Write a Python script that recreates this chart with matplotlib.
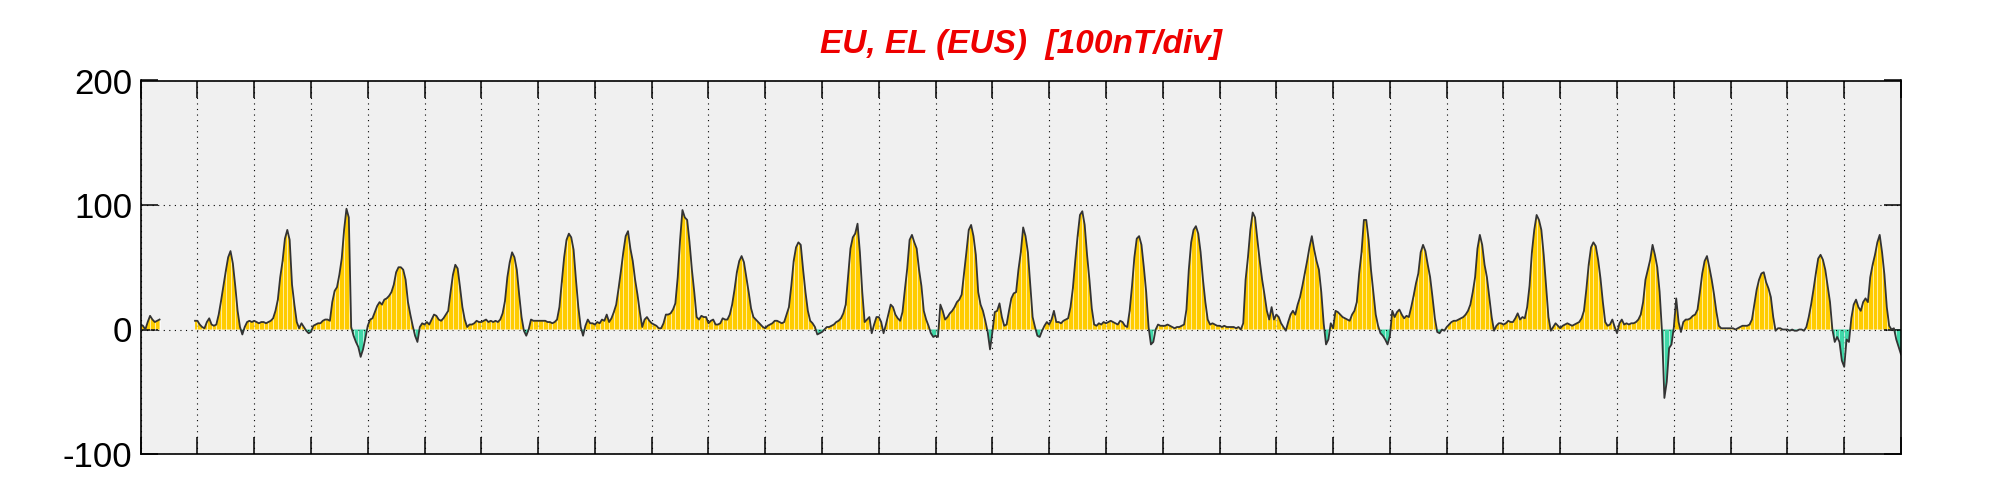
import numpy as np
import matplotlib
matplotlib.use("Agg")
import matplotlib.pyplot as plt

nan = np.nan
# Hourly EU/EL values (nT), one list per day (hour 0..23)
d01 = [4, 3, 0, 6, 11, 8, 6, 7, 8, nan, nan, nan, nan, nan, nan, nan, nan, nan, nan, nan, nan, nan, nan, 7]
d02 = [7, 4, 2, 1, 6, 9, 4, 3, 4, 12, 23, 35, 47, 58, 63, 53, 35, 15, 2, -4, 2, 6, 7, 6]
d03 = [7, 6, 5, 6, 6, 5, 6, 7, 9, 15, 24, 42, 55, 73, 80, 72, 36, 20, 6, 1, 5, 2, -1, -3]
d04 = [-2, 3, 4, 5, 5, 7, 8, 8, 7, 22, 31, 34, 44, 57, 80, 97, 90, 2, -5, -10, -14, -22, -16, -7]
d05 = [3, 8, 9, 14, 19, 22, 20, 24, 25, 27, 30, 36, 46, 50, 50, 48, 40, 22, 12, 3, -5, -10, 2, 5]
d06 = [4, 6, 4, 8, 12, 11, 8, 7, 9, 12, 15, 30, 44, 52, 49, 34, 18, 8, 2, 4, 4, 5, 7, 6]
d07 = [6, 7, 8, 6, 7, 6, 7, 6, 8, 13, 23, 42, 54, 62, 58, 48, 28, 10, -1, -5, 0, 8, 7, 7]
d08 = [7, 7, 7, 7, 6, 6, 5, 6, 8, 18, 38, 58, 72, 77, 74, 64, 40, 18, 2, -5, 3, 8, 5, 5]
d09 = [4, 6, 5, 8, 7, 12, 6, 9, 14, 20, 33, 47, 62, 75, 79, 65, 55, 40, 28, 14, 2, 8, 10, 7]
d10 = [5, 4, 3, 1, 1, 5, 12, 12, 13, 16, 21, 42, 72, 96, 90, 88, 70, 48, 30, 10, 8, 11, 10, 10]
d11 = [5, 7, 8, 4, 4, 5, 9, 8, 8, 12, 20, 32, 46, 55, 59, 54, 42, 30, 17, 10, 8, 6, 4, 2]
d12 = [1, 3, 4, 5, 7, 7, 6, 5, 6, 12, 18, 35, 55, 66, 70, 68, 48, 30, 15, 7, 5, 2, -4, -3]
d13 = [-2, 0, 2, 2, 3, 4, 6, 7, 9, 13, 20, 42, 65, 74, 77, 85, 62, 30, 6, 8, 10, -3, 4, 10]
d14 = [10, 6, -3, 4, 12, 20, 18, 12, 9, 7, 14, 32, 49, 72, 76, 70, 65, 48, 35, 15, 8, 3, -3, -6]
d15 = [-5, -6, 20, 15, 8, 10, 13, 15, 18, 22, 24, 28, 45, 62, 80, 84, 75, 60, 30, 20, 15, 7, -2, -16]
d16 = [-2, 14, 15, 21, 10, 3, 4, 15, 25, 29, 30, 48, 62, 82, 75, 62, 36, 10, 2, -5, -6, -1, 3, 6]
d17 = [4, 8, 15, 6, 6, 5, 7, 8, 9, 18, 33, 55, 75, 92, 95, 84, 60, 40, 17, 4, 3, 5, 4, 6]
d18 = [5, 6, 7, 6, 5, 4, 7, 6, 3, 2, 15, 35, 58, 73, 75, 68, 50, 30, 2, -12, -10, 0, 4, 3]
d19 = [3, 3, 4, 3, 2, 1, 2, 2, 3, 4, 16, 48, 70, 80, 83, 77, 62, 40, 22, 8, 4, 5, 4, 3]
d20 = [3, 2, 3, 2, 2, 2, 2, 1, 2, 0, 5, 40, 58, 80, 94, 90, 72, 55, 40, 28, 15, 8, 18, 8]
d21 = [12, 10, 5, 2, -1, 6, 12, 15, 12, 20, 26, 35, 45, 55, 66, 75, 64, 55, 48, 30, 5, -12, -8, 5]
d22 = [1, 15, 14, 12, 10, 9, 8, 7, 12, 15, 22, 45, 62, 88, 88, 72, 48, 30, 12, 3, -3, -5, -8, -12]
d23 = [-5, 15, 10, 14, 16, 12, 9, 11, 10, 18, 27, 37, 45, 62, 68, 63, 52, 42, 26, 9, -2, -3, 0, -1]
d24 = [2, 4, 6, 7, 7, 8, 9, 10, 12, 15, 20, 30, 42, 65, 76, 68, 52, 42, 26, 10, -1, 3, 5, 5]
d25 = [4, 5, 7, 6, 6, 9, 13, 8, 10, 9, 18, 35, 62, 80, 92, 88, 80, 60, 35, 10, -1, 2, 5, 3]
d26 = [1, 3, 4, 5, 4, 3, 4, 5, 6, 9, 15, 32, 52, 66, 70, 67, 56, 41, 22, 6, 3, 4, 8, 2]
d27 = [-3, 5, 8, 4, 5, 4, 5, 5, 6, 8, 12, 22, 40, 48, 56, 68, 60, 50, 30, -2, -55, -42, -15, -12]
d28 = [2, 25, 6, -2, 6, 8, 8, 9, 11, 12, 16, 30, 45, 55, 59, 50, 40, 28, 14, 3, 1, 1, 1, 1]
d29 = [1, 1, 0, 1, 2, 3, 3, 3, 4, 8, 20, 32, 40, 45, 46, 38, 33, 26, 10, -1, 1, 1, 0, 0]
d30 = [0, -1, 0, -1, -1, 0, 0, -1, 2, 10, 20, 32, 45, 57, 60, 56, 48, 35, 22, 0, -10, -6, -10, -25]
d31 = [-30, -8, -10, 9, 20, 24, 18, 15, 22, 25, 22, 42, 52, 60, 70, 76, 62, 44, 18, 3, 0, 1, -8, -14]
last_value = [-20]

days = [d01, d02, d03, d04, d05, d06, d07, d08, d09, d10, d11, d12, d13, d14, d15, d16,
        d17, d18, d19, d20, d21, d22, d23, d24, d25, d26, d27, d28, d29, d30, d31]
yticks = [-100, 0, 100, 200]
ytick_labels = ["-100", "0", "100", "200"]
title = "EU, EL (EUS)  [100nT/div]"

vals = np.array(sum(days, []) + last_value, dtype=float)
t = np.arange(len(vals)) / 24.0

fig = plt.figure(figsize=(20.01, 5.0), dpi=100)
ax = fig.add_axes([140.6 / 2001, 46 / 500, (1901 - 140.6) / 2001, (454 - 80.5) / 500])
ax.set_facecolor("#f0f0f0")

yellow = "#ffcc00"
teal = "#40d8a8"
ax.fill_between(t, vals, 0, where=vals >= 0, interpolate=True, color=yellow, lw=0, zorder=2)
ax.fill_between(t, vals, 0, where=vals <= 0, interpolate=True, color=teal, lw=0, zorder=2)

# white stripes inside fill
idx = np.arange(0, len(vals), 2)
ok = ~np.isnan(vals[idx])
ax.vlines(t[idx][ok], 0, vals[idx][ok], colors="white", lw=0.5, alpha=0.9, zorder=3)

ax.plot(t, vals, color="#333333", lw=1.3, zorder=5)

ax.set_xlim(0, 31)
ax.set_ylim(-100, 200)
ax.set_xticks(np.arange(0, 32))
ax.set_xticklabels([])
ax.set_yticks(yticks)
ax.set_yticklabels(ytick_labels, fontsize=25, family="Liberation Sans")
ax.tick_params(axis="both", direction="in", length=12.5, width=1.1, top=True, right=True, color="black")
ax.tick_params(axis="y", pad=6)
ax.grid(True, color="black", linestyle=(0, (1, 4)), lw=0.8, zorder=4)
ax.set_axisbelow(False)
for s in ax.spines.values():
    s.set_linewidth(1.2)
    s.set_zorder(6)

fig.text((140.6 + 1901) / 2 / 2001, 1 - 53 / 500, title, color="#ee0000", fontsize=24,
         fontweight="bold", fontstyle="italic", family="Liberation Sans",
         ha="center", va="baseline")

fig.savefig("out.png", dpi=100, facecolor="white")
